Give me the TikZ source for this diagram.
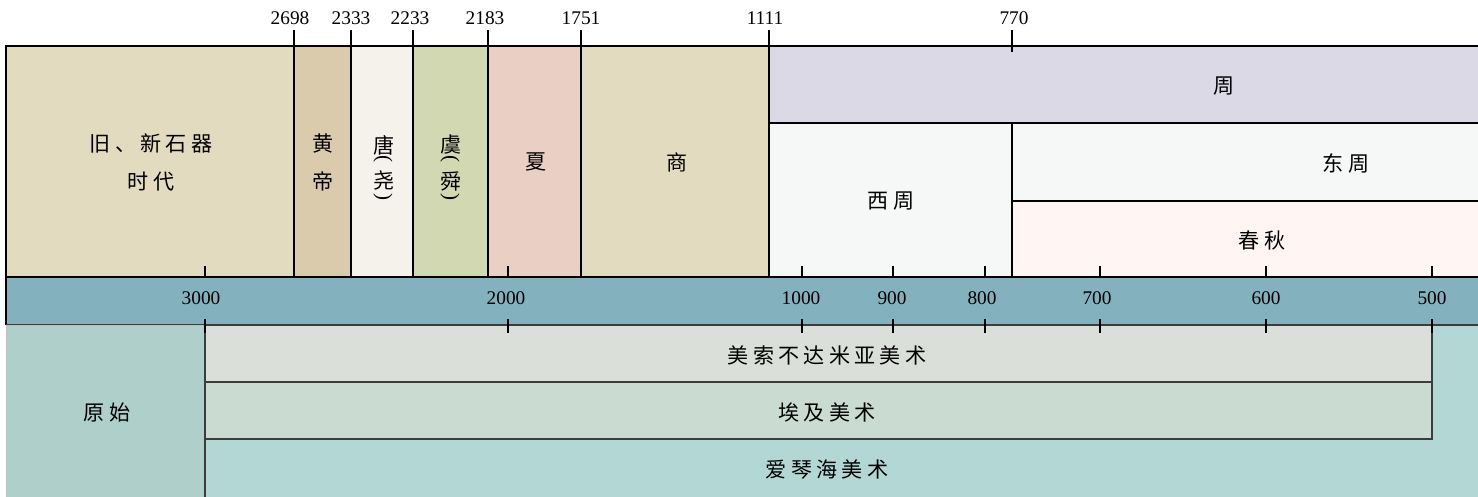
\documentclass[tikz,border=0pt]{standalone}
\usepackage{fontspec}
\setmainfont{Liberation Serif}
\newfontfamily\cjk[LetterSpace=20]{Noto Sans CJK SC}
\usetikzlibrary{positioning}
\definecolor{StoneBeige}{HTML}{E3DBC0}
\definecolor{HuangTan}{HTML}{DBCBAD}
\definecolor{TangIvory}{HTML}{F4F2EA}
\definecolor{YuGreen}{HTML}{D2D9B2}
\definecolor{XiaPink}{HTML}{EACFC4}
\definecolor{ZhouLilac}{HTML}{DBD9E5}
\definecolor{ZhouWhite}{HTML}{F6F8F7}
\definecolor{ChunqiuRose}{HTML}{FFF5F3}
\definecolor{AxisTeal}{HTML}{84B1BE}
\definecolor{PrimSage}{HTML}{AFCFCA}
\definecolor{MesoGray}{HTML}{DADFDA}
\definecolor{EgyptGreen}{HTML}{CADBD2}
\definecolor{AegeanTeal}{HTML}{B2D7D5}
\definecolor{DarkGray}{RGB}{60,60,60}

\begin{document}
\begin{tikzpicture}[x=0.02cm,y=-0.02cm,
  era/.style={draw=black,line width=0.8pt},
  art/.style={draw=DarkGray,line width=0.8pt},
  tick/.style={draw=black,line width=0.8pt},
  lbl/.style={font=\cjk\fontsize{12}{21.6}\selectfont,inner sep=0pt,align=center},
  paren/.style={font=\fontsize{12}{14}\selectfont,inner sep=0pt,rotate=-90},
  yr/.style={font=\fontsize{11}{13}\selectfont,inner sep=0pt}]
  \useasboundingbox (0,0) rectangle (1478,497);

  % early eras
  \draw[era,fill=StoneBeige] (6,46) rectangle (294,277);
  \draw[era,fill=HuangTan] (294,46) rectangle (351,277);
  \draw[era,fill=TangIvory] (351,46) rectangle (413,277);
  \draw[era,fill=YuGreen] (413,46) rectangle (488,277);
  \draw[era,fill=XiaPink] (488,46) rectangle (581,277);
  \draw[era,fill=StoneBeige] (581,46) rectangle (769,277);
  % Zhou boxes
  \draw[era,fill=ZhouLilac] (769,46) rectangle (1482,123);
  \draw[era,fill=ZhouWhite] (769,123) rectangle (1012,277);
  \draw[era,fill=ZhouWhite] (1012,123) rectangle (1482,201);
  \draw[era,fill=ChunqiuRose] (1012,201) rectangle (1482,277);
  % axis band
  \fill[AxisTeal] (6,277) rectangle (1482,325);
  \draw[era] (1482,277) -- (6,277) -- (6,325);
  \draw[art] (6,325) -- (1482,325);
  % art boxes
  \draw[draw=black!25,fill=PrimSage] (1482,499) -- (6,499) -- (6,325) -- (205,325);
  \draw[art,fill=AegeanTeal] (205,325) rectangle (1482,499);
  \draw[art,fill=MesoGray] (205,325) rectangle (1432,382);
  \draw[art,fill=EgyptGreen] (205,382) rectangle (1432,439);

  % top years
  \foreach \x/\lx/\yr in {294/290/2698, 351/351/2333, 413/410/2233, 488/485/2183,
                          581/581/1751, 769/765/1111} {
    \draw[tick] (\x,30) -- (\x,46);
    \node[yr] (top\yr) at (\lx,18) {\yr};
  }
  \draw[tick] (1012,30) -- (1012,52);
  \node[yr] (top770) at (1014,18) {770};

  % axis years
  \foreach \x/\lx/\yr in {205/201/3000, 508/506/2000, 802/801/1000, 893/892/900,
                          985/982/800, 1100/1097/700, 1266/1266/600, 1432/1432/500} {
    \draw[tick] (\x,266) -- (\x,277);
    \draw[tick] (\x,319) -- (\x,333);
    \node[yr] (ax\yr) at (\lx,298) {\yr};
  }

  % era labels
  \node[lbl] (stone) at (151,162.5) {旧、新石器\\时代};
  \node[lbl] (huang) at (323,162.5) {黄\\帝};
  \node[lbl] (tangA) at (384,145) {唐};
  \node[paren] (tangP) at (383,159) {(};
  \node[lbl] (tangB) at (384,181) {尧};
  \node[paren] (tangQ) at (383,197) {)};
  \node[lbl] (yuA) at (451,145) {虞};
  \node[paren] (yuP) at (450,159) {(};
  \node[lbl] (yuB) at (451,181) {舜};
  \node[paren] (yuQ) at (450,197) {)};
  \node[lbl] (xia) at (536,162) {夏};
  \node[lbl] (shang) at (677,162) {商};
  \node[lbl] (zhou) at (1224,86) {周};
  \node[lbl] (xizhou) at (891,201) {西周};
  \node[lbl] (dongzhou) at (1346,163) {东周};
  \node[lbl] (chunqiu) at (1262,240) {春秋};

  % art labels
  \node[lbl] (yuanshi) at (107,412) {原始};
  \node[lbl] (meso) at (827,355) {美索不达米亚美术};
  \node[lbl] (egypt) at (827,412) {埃及美术};
  \node[lbl] (aegean) at (827,470) {爱琴海美术};
\end{tikzpicture}
\end{document}
